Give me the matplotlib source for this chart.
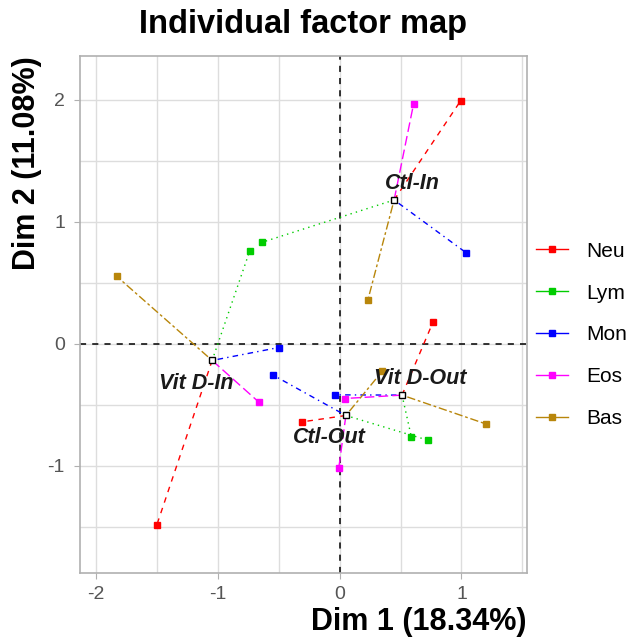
import numpy as np
import matplotlib
matplotlib.use("Agg")
import matplotlib.pyplot as plt

plt.rcParams["font.family"] = ["Liberation Sans", "DejaVu Sans"]
plt.rcParams["axes.unicode_minus"] = False

# -----------------------------
# data
# -----------------------------
individuals = ["Ctl-In", "Vit D-In", "Ctl-Out", "Vit D-Out"]
center_x = [0.447, -1.047, 0.051, 0.512]
center_y = [1.179, -0.136, -0.587, -0.420]
label_x = [0.595, -1.181, -0.089, 0.663]
label_y = [1.310, -0.322, -0.765, -0.284]

groups = ["Neu", "Lym", "Mon", "Eos", "Bas"]
# partial points: one row per group, columns follow `individuals`
partial_x = [
    [0.992, -1.502, -0.306, 0.767],
    [-0.635, -0.739, 0.726, 0.588],
    [1.039, -0.500, -0.545, -0.035],
    [0.607, -0.663, -0.007, 0.040],
    [0.232, -1.829, 0.350, 1.200],
]
partial_y = [
    [1.990, -1.486, -0.639, 0.180],
    [0.833, 0.760, -0.790, -0.760],
    [0.746, -0.030, -0.257, -0.418],
    [1.967, -0.478, -1.014, -0.448],
    [0.361, 0.552, -0.224, -0.656],
]

colors = ["#FF0000", "#00CD00", "#0000FF", "#FF00FF", "#B8860B"]
dashes = [(4, 4), (1, 3), (1, 3, 4, 3), (7, 3), (2, 2, 6, 2)]

fig = plt.figure(figsize=(6.28, 6.42), dpi=100)
ax = fig.add_axes([0.1266, 0.108, 0.712, 0.805])

#----------------------------------------
# grid + origin lines
#----------------------------------------
for v in np.arange(-2, 1.6, 0.5):
    ax.axvline(v, color="#DDDDDD", lw=1.0, zorder=0)
for v in np.arange(-1.5, 2.4, 0.5):
    ax.axhline(v, color="#DDDDDD", lw=1.0, zorder=0)

ax.axhline(0, color="black", lw=1.1, ls=(0, (4, 4)), zorder=1)
ax.axvline(0, color="black", lw=1.1, ls=(0, (4, 4)), zorder=1)

#----------------------------------------
# partial points linked to their centers
#----------------------------------------
for g, name in enumerate(groups):
    for i in range(len(individuals)):
        ax.plot([center_x[i], partial_x[g][i]], [center_y[i], partial_y[g][i]],
                color=colors[g], lw=1.0, ls=(0, dashes[g]), zorder=2)
    ax.plot(partial_x[g], partial_y[g], ls="none", marker="s", ms=5,
            color=colors[g], zorder=3)
    ax.plot([], [], color=colors[g], lw=1.0, marker="s", ms=5, label=name)

ax.plot(center_x, center_y, ls="none", marker="s", ms=4.5, mfc="white",
        mec="black", mew=1.0, zorder=4)
for i, name in enumerate(individuals):
    ax.text(label_x[i], label_y[i], name, ha="center", va="center",
            fontsize=15.5, fontstyle="italic", fontweight="bold",
            color="#1A1A1A", zorder=5)

#----------------------------------------
# axes
#----------------------------------------
ax.set_xlim(-2.136, 1.535)
ax.set_ylim(-1.875, 2.36)
ax.set_xticks([-2, -1, 0, 1])
ax.set_yticks([-1, 0, 1, 2])
ax.tick_params(colors="#B0B0B0", labelcolor="#555555", labelsize=14, length=4)
ax.tick_params(axis="x", pad=5.5)
ax.tick_params(axis="y", pad=6.5)
for s in ax.spines.values():
    s.set_color("#B0B0B0")
    s.set_linewidth(1.2)

ax.set_xlabel("Dim 1 (18.34%)", fontsize=22, fontweight="bold", loc="right", labelpad=3)
ax.set_ylabel("Dim 2 (11.08%)", fontsize=22, fontweight="bold", loc="top", labelpad=4)
fig.text(0.4825, 0.962, "Individual factor map", fontsize=23.5, fontweight="bold",
         ha="center", va="center")

fig.legend(loc="center left", bbox_to_anchor=(536 / 628, 1 - 335 / 642),
           frameon=False, fontsize=15, handlelength=1.55, handletextpad=0.85,
           labelspacing=1.1, borderpad=0, borderaxespad=0)

fig.savefig("out.png", dpi=100)
